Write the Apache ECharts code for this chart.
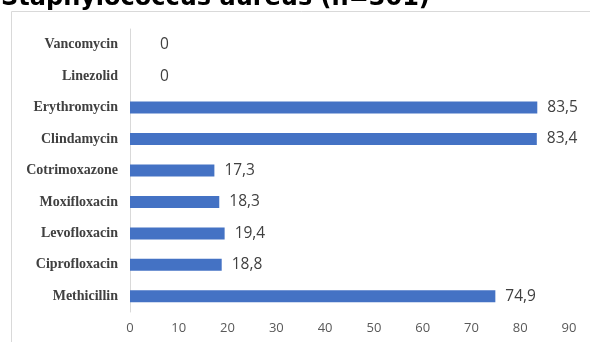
<!DOCTYPE html>
<html><head><meta charset="utf-8">
<script src="https://cdn.jsdelivr.net/npm/echarts@6/dist/echarts.min.js"></script>
<style>html,body{margin:0;padding:0;background:#fff}#c{width:590px;height:342px}</style>
</head><body><div id="c"></div>
<script>
const categories = ["Methicillin","Ciprofloxacin","Levofloxacin","Moxifloxacin","Cotrimoxazone","Clindamycin","Erythromycin","Linezolid","Vancomycin"];
const values = [74.9, 18.8, 19.4, 18.3, 17.3, 83.4, 83.5, 0, 0];
const xTicks = [0,10,20,30,40,50,60,70,80,90];
const titleText = "Staphylococcus aureus (n=301)";

const chart = echarts.init(document.getElementById('c'), null, {renderer:'canvas'});
chart.setOption({
  animation: false,
  title: {text: titleText, left: -4, top: -18, textStyle:{fontFamily:'DejaVu Sans', fontWeight:'bold', fontSize:24, color:'#000'}},
  graphic: [{type:'rect', shape:{x:11.5, y:11.5, width:700, height:400}, style:{fill:'none', stroke:'#d9d9d9', lineWidth:1}, silent:true, z:-1}],
  grid: {left:130, right:21, top:29, bottom:30, containLabel:false},
  xAxis: {type:'value', min:xTicks[0], max:xTicks[xTicks.length-1], interval:10,
    axisLine:{show:false}, axisTick:{show:false}, splitLine:{show:false},
    axisLabel:{color:'#595959', fontSize:13, fontFamily:'Open Sans', margin:10}},
  yAxis: {type:'category', data:categories,
    axisLine:{show:true, lineStyle:{color:'#d9d9d9'}}, axisTick:{show:false},
    axisLabel:{color:'#404040', fontSize:14, fontWeight:'bold', fontFamily:'Liberation Serif', margin:12}},
  series: [{type:'bar', barWidth:12,
    data: values.map(v => v === 0
      ? {value:v, itemStyle:{opacity:0}, label:{distance:30}}
      : {value:v}),
    itemStyle:{color:'#4472C4'},
    label:{show:true, position:'right', distance:10, color:'#404040', fontSize:15.5, fontFamily:'Open Sans', opacity:1,
      formatter: p => String(p.value).replace('.', ',')}}]
});
</script></body></html>
